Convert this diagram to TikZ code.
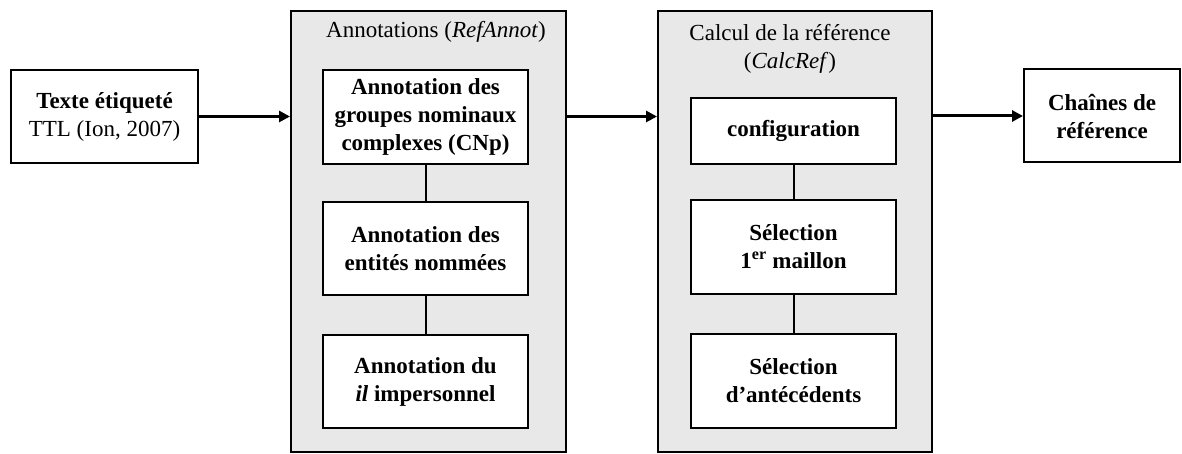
\documentclass[tikz,border=0pt]{standalone}
\usepackage{fontspec}
\setmainfont{Liberation Serif}
\usetikzlibrary{arrows.meta}
\begin{document}
\begin{tikzpicture}[x=1pt,y=-1pt,
  every node/.style={font=\fontsize{23}{28}\selectfont, align=center, inner sep=0pt},
  box/.style={draw=black, line width=2pt, fill=white, minimum width=#1, font=\fontsize{23}{28}\selectfont\bfseries},
  group/.style={draw=black, line width=2pt, fill=groupgray},
  arr/.style={line width=3pt, -{Triangle[length=11pt,width=11pt]}},
  link/.style={line width=2pt}]
\definecolor{groupgray}{HTML}{E8E8E8}
\useasboundingbox (0,0) rectangle (1182,454);
% groups
\node[group, minimum width=275pt, minimum height=441pt] (g1) at (428.5,231.5) {};
\node[group, minimum width=274pt, minimum height=441pt] (g2) at (795,231.5) {};
\node (t1) at (436,32) {Annotations (\textit{RefAnnot})};
\node (t2) at (790,49) {Calcul de la référence\\(\textit{CalcRef})};
% outer boxes
\node[box=187pt, minimum height=93pt] (in) at (104.5,116.5) {Texte étiqueté\\\mdseries TTL (Ion, 2007)};
\node[box=156pt, minimum height=93pt] (out) at (1102,116) {Chaînes de\\référence};
% group 1 boxes
\node[box=205pt, minimum height=94pt] (a1) at (425.5,117) {Annotation des\\groupes nominaux\\complexes (CNp)};
\node[box=205pt, minimum height=93pt] (a2) at (425.5,248.5) {Annotation des\\entités nommées};
\node[box=205pt, minimum height=93pt] (a3) at (425.5,381.5) {Annotation du\\\textit{il} impersonnel};
% group 2 boxes
\node[box=205pt, minimum height=66pt] (c1) at (793.5,131) {configuration};
\node[box=205pt, minimum height=94pt] (c2) at (793.5,247) {Sélection\\1\textsuperscript{er} maillon};
\node[box=205pt, minimum height=94pt] (c3) at (793.5,381) {Sélection\\d’antécédents};
% links
\draw[link] (a1.south) -- (a2.north);
\draw[link] (a2.south) -- (a3.north);
\draw[link] (c1.south) -- (c2.north);
\draw[link] (c2.south) -- (c3.north);
% arrows
\draw[arr] (in.east) -- (in.east -| g1.west);
\draw[arr] (g1.east |- in.east) -- (in.east -| g2.west);
\draw[arr] (g2.east |- out.west) -- (out.west);
\end{tikzpicture}
\end{document}
